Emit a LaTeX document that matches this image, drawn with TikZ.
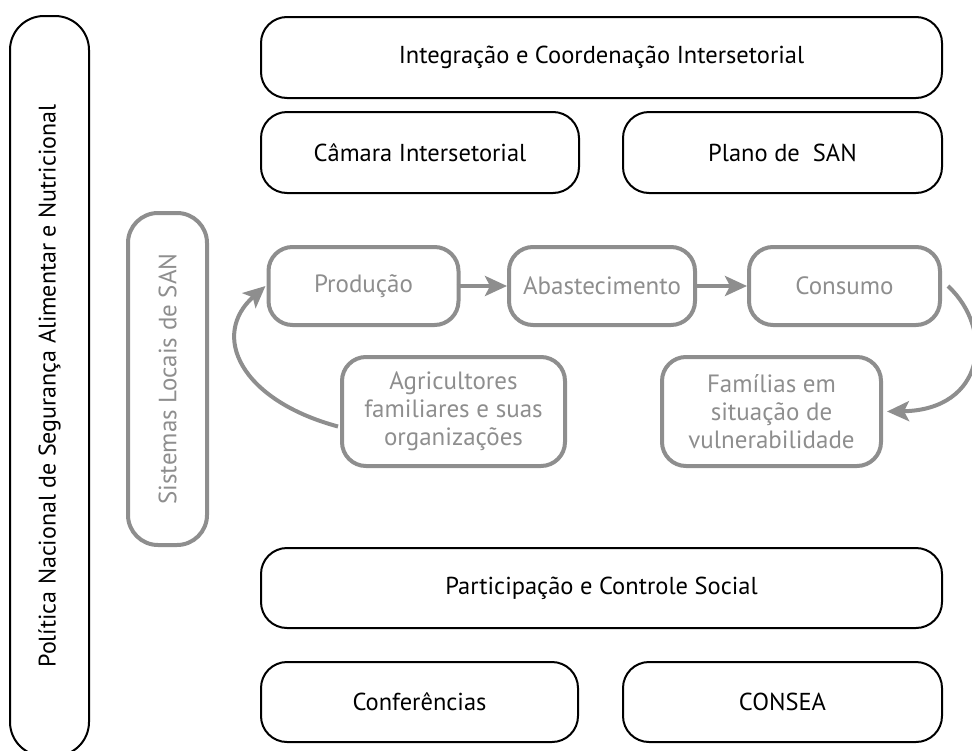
\documentclass[tikz,border=0pt]{standalone}
\usepackage{fontspec}
\setmainfont{PT Sans}
\usetikzlibrary{arrows.meta}
\definecolor{gr}{HTML}{8E8E8E}
\begin{document}
\begin{tikzpicture}[x=1pt,y=-1pt,
  bbox/.style={draw=black, line width=2pt, rounded corners=26pt, font=\fontsize{24.5}{29}\selectfont, inner sep=0pt},
  gbox/.style={draw=gr, line width=4pt, rounded corners=24pt, text=gr, font=\fontsize{25}{28}\selectfont, align=center, inner sep=0pt},
  garrow/.style={draw=gr, line width=4pt, -{Stealth[length=22pt,width=20pt,inset=5pt]}}]
\useasboundingbox (0,0) rectangle (972,750);

% left column
\node[bbox, rotate=90, minimum width=740pt, minimum height=79pt, rounded corners=34pt, font=\fontsize{24}{29}\selectfont] (pol) at (49.5,386) {Política Nacional de Segurança Alimentar e Nutricional};
\node[gbox, rotate=90, minimum width=332pt, minimum height=79pt, rounded corners=30pt] (sis) at (167.5,379) {Sistemas Locais de SAN};

% top
\node[bbox, minimum width=681pt, minimum height=81pt] (integ) at (601.5,57.5) {Integração e Coordenação Intersetorial};
\node[bbox, minimum width=318pt, minimum height=81pt] (cam) at (420,152.5) {Câmara Intersetorial};
\node[bbox, minimum width=319pt, minimum height=81pt] (plano) at (782.5,152.5) {Plano de~ SAN};

% middle
\node[gbox, minimum width=190pt, minimum height=78pt] (prod) at (363.5,286) {Produção};
\node[gbox, minimum width=186pt, minimum height=78pt] (abas) at (602,286) {Abastecimento};
\node[gbox, minimum width=191pt, minimum height=78pt] (cons) at (844.5,286) {Consumo};
\node[gbox, minimum width=223pt, minimum height=109pt] (agr) at (453.5,411.5) {Agricultores\\familiares e suas\\organizações};
\node[gbox, minimum width=219pt, minimum height=109pt] (fam) at (771.5,411.5) {Famílias em\\situação de\\vulnerabilidade};

% bottom
\node[bbox, minimum width=681pt, minimum height=80pt] (part) at (601.5,588) {Participação e Controle Social};
\node[bbox, minimum width=317pt, minimum height=80pt] (conf) at (419.5,702) {Conferências};
\node[bbox, minimum width=319pt, minimum height=80pt] (consea) at (782.5,702) {CONSEA};

% arrows
\draw[garrow] ([xshift=-4pt]prod.east) -- (abas.west);
\draw[garrow] ([xshift=-4pt]abas.east) -- (cons.west);
\draw[garrow] ([xshift=6pt]cons.east) .. controls (995,330) and (985,410) .. ([xshift=4pt]fam.east);
\draw[garrow] ([yshift=-15pt,xshift=-2pt]agr.west) .. controls (240,400) and (210,335) .. ([xshift=-1pt]prod.west);
\end{tikzpicture}
\end{document}
